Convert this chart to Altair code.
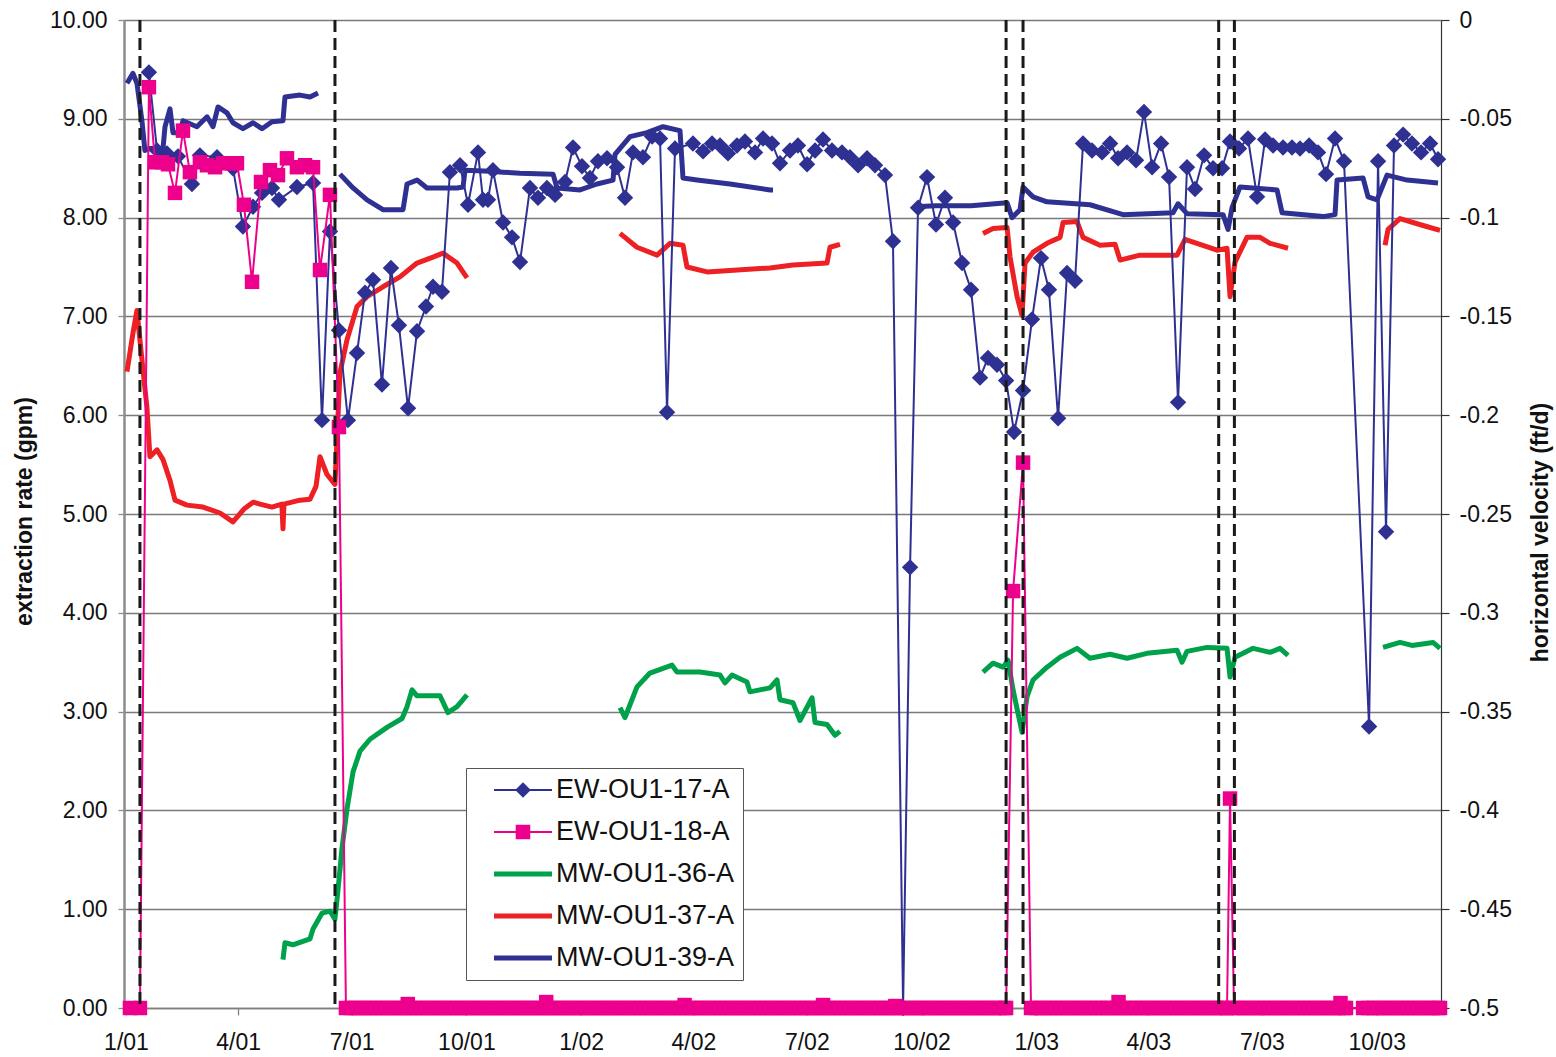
import altair as alt
import numpy as np
import pandas as pd

FONT = "Liberation Sans, Arial, Helvetica, sans-serif"
NAVY = "#2E3192"
PINK = "#EC008C"
GREEN = "#00A14B"
RED = "#ED2024"
TEXT = "#111111"

# Sampling dates are stored as elapsed days since 1 Jan 2001.
START = pd.Timestamp("2001-01-01")

SERIES = ["EW-OU1-17-A", "EW-OU1-18-A", "MW-OU1-36-A", "MW-OU1-37-A", "MW-OU1-39-A"]
SERIES_COLORS = [NAVY, PINK, GREEN, RED, NAVY]

# --- extraction wells, weekly rates (gpm) ---------------------------------
EW17_DAY = [18.4, 24.9, 32.9, 41.7, 52.9, 59.3, 73.0, 85.8, 93.8, 101.9,
            109.1, 117.1, 122.7, 137.1, 150.0, 157.2, 163.6, 170.8, 178.0, 185.3,
            191.7, 198.1, 205.3, 212.5, 218.9, 226.2, 233.4, 240.6, 246.2, 253.4,
            259.8, 267.9, 274.3, 282.3, 286.3, 290.3, 294.3, 302.4, 309.6, 316.0,
            324.0, 330.4, 337.6, 344.1, 352.1, 358.5, 365.7, 372.1, 378.5, 385.8,
            393.8, 400.2, 406.6, 414.6, 421.9, 428.3, 433.9, 440.3, 454.7, 462.8,
            470.0, 476.4, 482.8, 490.0, 496.4, 504.5, 510.9, 518.1, 524.5, 532.5,
            538.9, 546.2, 552.6, 559.0, 566.2, 574.2, 580.6, 587.1, 594.3, 600.7,
            608.7, 615.1, 623.2, 628.8, 635.2, 642.4, 649.6, 656.8, 663.3, 670.5,
            677.7, 684.9, 691.3, 698.5, 705.8, 712.2, 719.4, 726.6, 733.8, 740.2,
            747.5, 754.7, 761.1, 767.5, 774.7, 782.8, 789.2, 795.6, 802.8, 810.0,
            816.4, 822.9, 830.1, 836.5, 843.7, 850.9, 857.3, 864.6, 871.8, 879.0,
            885.4, 892.6, 899.8, 907.1, 913.5, 919.9, 927.9, 935.1, 941.5, 948.8,
            956.0, 962.4, 969.6, 976.8, 996.9, 1004.1, 1010.5, 1016.9, 1024.2, 1031.3,
            1038.6, 1045.8, 1052.2]
EW17_GPM = [9.47, 8.68, 8.65, 8.62, 8.34, 8.63, 8.61, 8.50, 7.91, 8.11,
            8.25, 8.30, 8.18, 8.31, 8.35, 5.95, 7.86, 6.86, 5.95, 6.63,
            7.24, 7.37, 6.31, 7.49, 6.91, 6.07, 6.85, 7.10, 7.30, 7.25,
            8.46, 8.53, 8.13, 8.66, 8.18, 8.18, 8.48, 7.95, 7.80, 7.55,
            8.30, 8.20, 8.30, 8.23, 8.36, 8.71, 8.52, 8.40, 8.57, 8.60,
            8.51, 8.20, 8.66, 8.61, 8.82, 8.80, 6.03, 8.70, 8.75, 8.67,
            8.75, 8.73, 8.65, 8.73, 8.77, 8.66, 8.80, 8.75, 8.55, 8.68,
            8.73, 8.54, 8.68, 8.79, 8.68, 8.66, 8.61, 8.53, 8.60, 8.53,
            8.43, 7.76, 0.00, 4.46, 8.10, 8.41, 7.93, 8.20, 7.95, 7.54,
            7.27, 6.38, 6.58, 6.51, 6.35, 5.83, 6.25, 6.97, 7.59, 7.27,
            5.97, 7.44, 7.36, 8.75, 8.68, 8.66, 8.75, 8.60, 8.66, 8.58,
            9.07, 8.51, 8.75, 8.41, 6.13, 8.51, 8.29, 8.63, 8.50, 8.50,
            8.77, 8.70, 8.80, 8.21, 8.79, 8.73, 8.71, 8.71, 8.70, 8.73,
            8.66, 8.44, 8.80, 8.57, 2.85, 8.57, 4.82, 8.73, 8.84, 8.75,
            8.66, 8.75, 8.59]

# EW-OU1-18-A: readings while pumping, plus small non-zero days in the off periods
EW18_DAY = [3.2, 11.2, 18.4, 23.3, 28.9, 33.7, 39.3, 45.7, 51.3, 59.3,
            65.0, 71.4, 77.8, 85.0, 89.0, 94.6, 101.1, 108.3, 115.5, 121.9,
            129.1, 137.1, 143.6, 150.0, 155.6, 163.6, 170.8,
            226.0, 337.0, 448.0, 559.0, 617.0, 711.4, 719.4, 796.0, 885.4, 974.0]
EW18_GPM = [0.0, 0.0, 9.32, 8.56, 8.56, 8.54, 8.25, 8.88, 8.46, 8.56,
            8.53, 8.51, 8.55, 8.55, 8.55, 8.13, 7.35, 8.36, 8.48, 8.43,
            8.60, 8.51, 8.53, 8.51, 7.47, 8.23, 5.88,
            0.04, 0.06, 0.03, 0.03, 0.02, 4.22, 5.52, 0.06, 2.12, 0.05]
# periods in which EW-OU1-18-A was logged at 0 gpm (first day, last day)
EW18_ZERO_SPANS = [(176.4, 705.8), (725.8, 883.0), (888.6, 978.4), (992.1, 1053.8)]

# --- monitoring wells, horizontal velocity (ft/d), one list per logging period
MW36_PERIODS = [
    [(125.9, -0.4755), (127.5, -0.467), (133.9, -0.468), (147.6, -0.465), (150.0, -0.460),
     (157.2, -0.452), (163.6, -0.451), (167.6, -0.455), (170.0, -0.4405), (173.2, -0.4195),
     (177.2, -0.3995), (182.1, -0.3805), (187.7, -0.370), (195.7, -0.364), (209.3, -0.358),
     (221.4, -0.3535), (225.4, -0.3475), (229.4, -0.339), (233.4, -0.342), (251.8, -0.342),
     (258.2, -0.3505), (265.5, -0.3475), (273.5, -0.3415)],
    [(396.2, -0.348), (400.2, -0.353), (409.8, -0.3375), (420.2, -0.3305), (437.9, -0.3265),
     (441.9, -0.330), (460.3, -0.330), (476.4, -0.3315), (480.4, -0.3355), (486.0, -0.3315),
     (498.0, -0.335), (500.4, -0.340), (516.5, -0.338), (522.1, -0.334), (524.5, -0.344),
     (534.9, -0.3455), (540.5, -0.3545), (550.2, -0.343), (552.6, -0.3555), (562.2, -0.3565),
     (568.6, -0.362), (572.6, -0.360)],
    [(687.3, -0.330), (695.3, -0.3255), (703.4, -0.3275), (707.4, -0.324), (711.4, -0.339),
     (718.6, -0.3605), (722.6, -0.3425), (727.4, -0.334), (738.6, -0.3275), (749.1, -0.3225),
     (762.7, -0.318), (773.1, -0.323), (789.2, -0.321), (802.8, -0.323), (818.8, -0.3205),
     (842.9, -0.319), (846.9, -0.325), (850.9, -0.3195), (867.0, -0.3175), (883.0, -0.318),
     (885.4, -0.3325), (889.4, -0.3225), (903.9, -0.318), (917.5, -0.320), (925.5, -0.318),
     (931.9, -0.3215)],
    [(1008.1, -0.3175), (1021.7, -0.315), (1031.3, -0.3165), (1048.2, -0.315), (1053.8, -0.318)],
]

MW37_PERIODS = [
    [(0.8, -0.178), (5.6, -0.1585), (8.8, -0.147), (12.8, -0.172), (16.8, -0.196),
     (19.2, -0.221), (24.9, -0.2175), (29.7, -0.2225), (35.3, -0.233), (39.3, -0.243),
     (48.9, -0.2455), (61.8, -0.2465), (75.4, -0.2495), (85.8, -0.254), (94.6, -0.2475),
     (101.9, -0.244), (107.5, -0.245), (117.1, -0.2465), (125.0, -0.245), (125.9, -0.2575),
     (126.7, -0.245), (139.5, -0.243), (147.6, -0.2425), (152.4, -0.236), (155.6, -0.221),
     (161.2, -0.230), (167.6, -0.235), (171.6, -0.1785), (177.2, -0.162), (185.3, -0.145),
     (193.3, -0.140), (206.1, -0.135), (219.7, -0.130), (233.4, -0.123), (246.2, -0.120),
     (254.2, -0.118), (265.5, -0.123), (273.5, -0.1305)],
    [(396.2, -0.108), (409.8, -0.115), (425.9, -0.119), (436.3, -0.113), (446.7, -0.114),
     (449.9, -0.125), (466.0, -0.1275), (516.5, -0.1255), (534.9, -0.124), (562.2, -0.123),
     (564.6, -0.115), (572.6, -0.1135)],
    [(687.3, -0.108), (695.3, -0.1055), (706.6, -0.105), (709.0, -0.120), (714.6, -0.140),
     (718.6, -0.1495), (721.0, -0.123), (727.4, -0.1175), (738.6, -0.113), (749.1, -0.110),
     (751.5, -0.1025), (762.7, -0.102), (767.5, -0.110), (781.1, -0.114), (793.2, -0.1135),
     (797.2, -0.1215), (813.2, -0.119), (842.9, -0.119), (849.3, -0.111), (875.0, -0.1165),
     (883.0, -0.1155), (885.4, -0.140), (889.4, -0.1225), (899.0, -0.110), (909.5, -0.110),
     (917.5, -0.113), (931.9, -0.1155)],
    [(1009.7, -0.114), (1012.1, -0.106), (1021.7, -0.1005), (1040.2, -0.104), (1053.8, -0.1065)],
]

MW39_PERIODS = [
    [(0.8, -0.032), (5.6, -0.027), (8.8, -0.032), (12.8, -0.051), (15.2, -0.066),
     (19.2, -0.065), (29.7, -0.065), (31.3, -0.054), (35.3, -0.045), (37.7, -0.057),
     (43.3, -0.057), (45.7, -0.051), (56.9, -0.054), (65.0, -0.049), (69.8, -0.054),
     (73.8, -0.044), (81.0, -0.047), (85.8, -0.052), (93.8, -0.055), (101.9, -0.052),
     (109.1, -0.055), (117.1, -0.0515), (125.9, -0.051), (127.5, -0.039), (139.5, -0.038),
     (147.6, -0.039), (154.0, -0.037)],
    [(171.6, -0.078), (182.1, -0.085), (193.3, -0.091), (206.1, -0.096), (222.2, -0.096),
     (225.4, -0.083), (233.4, -0.081), (241.4, -0.085), (249.4, -0.085), (265.5, -0.085),
     (270.3, -0.0845), (271.9, -0.076), (291.9, -0.0765), (302.4, -0.077), (316.0, -0.0775),
     (342.5, -0.078), (345.7, -0.085), (364.1, -0.086), (377.7, -0.083), (390.6, -0.081),
     (392.2, -0.068), (404.2, -0.059), (417.8, -0.057), (430.7, -0.054), (444.3, -0.056),
     (446.7, -0.080), (457.9, -0.081), (484.4, -0.083), (516.5, -0.086), (518.9, -0.086)],
    [(632.8, -0.0945), (649.6, -0.094), (677.7, -0.094), (706.6, -0.0925), (710.6, -0.100),
     (717.0, -0.096), (719.4, -0.0845), (727.4, -0.0895), (738.6, -0.092), (773.1, -0.0935),
     (799.6, -0.0985), (839.7, -0.0975), (843.7, -0.093), (850.9, -0.098), (879.8, -0.0985),
     (883.8, -0.106), (887.0, -0.095), (893.4, -0.0845), (923.1, -0.086), (927.1, -0.0975),
     (960.0, -0.0995), (969.6, -0.0985), (971.2, -0.081), (992.1, -0.080), (996.1, -0.0895),
     (1003.3, -0.091), (1011.3, -0.0785), (1027.4, -0.081), (1052.2, -0.0825)],
]

# pump shut-down / restart events
EVENT_DAY = [11.2, 167.6, 705.8, 719.4, 876.3, 888.9]

QUARTER_TICKS = [(2001, 1), (2001, 4), (2001, 7), (2001, 10), (2002, 1), (2002, 4),
                 (2002, 7), (2002, 10), (2003, 1), (2003, 4), (2003, 7), (2003, 10)]
VELOCITY_TICKS = [-0.5, -0.45, -0.4, -0.35, -0.3, -0.25, -0.2, -0.15, -0.1, -0.05, 0]

# legend glyphs: line with a marker, drawn as filled paths in symbol units
PATH_DIAMOND = ("M-1,-0.035L-0.235,-0.035L0,-0.27L0.235,-0.035L1,-0.035L1,0.035"
                "L0.235,0.035L0,0.27L-0.235,0.035L-1,0.035Z")
PATH_SQUARE = ("M-1,-0.035L-0.25,-0.035L-0.25,-0.25L0.25,-0.25L0.25,-0.035L1,-0.035"
               "L1,0.035L0.25,0.035L0.25,0.25L-0.25,0.25L-0.25,0.035L-1,0.035Z")
PATH_BAR = "M-1,-0.09L1,-0.09L1,0.09L-1,0.09Z"
SERIES_SHAPES = [PATH_DIAMOND, PATH_SQUARE, PATH_BAR, PATH_BAR, PATH_BAR]


def to_dates(days):
    return START + pd.to_timedelta(np.asarray(days, dtype=float), unit="D")


def periods_frame(periods):
    rows = [(day, v, k) for k, period in enumerate(periods) for day, v in period]
    df = pd.DataFrame(rows, columns=["day", "ftd", "seg"])
    df["date"] = to_dates(df["day"])
    return df


ew17 = pd.DataFrame({"day": EW17_DAY, "gpm": EW17_GPM})
ew17["date"] = to_dates(ew17["day"])
ew17["series"] = SERIES[0]

zero_days = np.concatenate([np.append(np.arange(a, b, 4.0), b) for a, b in EW18_ZERO_SPANS])
ew18 = pd.DataFrame({"day": list(EW18_DAY) + list(zero_days),
                     "gpm": list(EW18_GPM) + [0.0] * len(zero_days)}).sort_values("day")
ew18["date"] = to_dates(ew18["day"])

mw36 = periods_frame(MW36_PERIODS)
mw37 = periods_frame(MW37_PERIODS)
mw39 = periods_frame(MW39_PERIODS)

events = pd.DataFrame({"date": to_dates(EVENT_DAY)})

# --- scales and axes -------------------------------------------------------
x_axis = alt.Axis(
    values=[alt.DateTime(year=y, month=m, date=1) for y, m in QUARTER_TICKS],
    format="%-m/%y", title=None, grid=False,
    labelFont=FONT, labelFontSize=23, labelColor=TEXT, labelPadding=16,
    labelFlush=False, labelOverlap=False,
    tickSize=7, tickColor="#808080", tickWidth=1.3,
    domainColor="#808080", domainWidth=1.3,
)
x = alt.X(
    "date:T",
    scale=alt.Scale(domain=[alt.DateTime(year=2000, month=12, date=30, hours=10),
                            alt.DateTime(year=2003, month=11, date=21, hours=14)]),
    axis=x_axis,
)

left_axis = alt.Axis(
    orient="left", values=list(range(11)), format=".2f",
    grid=True, gridColor="#7a7a7a", gridWidth=1.3,
    domainColor="#8c8c8c", domainWidth=2.5,
    tickColor="#8c8c8c", tickSize=6, tickWidth=1.3,
    labelFont=FONT, labelFontSize=23, labelColor=TEXT, labelPadding=11, labelFlush=False,
    title="extraction rate (gpm)", titleFont=FONT, titleFontSize=23, titleFontWeight="bold",
    titleColor=TEXT, titleAngle=270, titleX=-100, titleY=491,
    titleAlign="center", titleBaseline="middle",
)
y_left = alt.Y("gpm:Q", scale=alt.Scale(domain=[0, 10], nice=False, zero=False), axis=left_axis)

right_axis = alt.Axis(
    orient="right", values=VELOCITY_TICKS,
    labelExpr="datum.value == 0 ? '0' : '-' + format(-datum.value, '~g')",
    grid=False, domainColor="#333333", domainWidth=1.2,
    tickColor="#333333", tickSize=8, tickWidth=1.2,
    labelFont=FONT, labelFontSize=23, labelColor=TEXT, labelPadding=10, labelFlush=False,
    title="horizontal velocity (ft/d)", titleFont=FONT, titleFontSize=23, titleFontWeight="bold",
    titleColor=TEXT, titleAngle=270, titleX=99, titleY=512,
    titleAlign="center", titleBaseline="middle",
)
y_right = alt.Y("ftd:Q", scale=alt.Scale(domain=[-0.5, 0], nice=False, zero=False), axis=right_axis)

# --- velocity lines (right axis) -------------------------------------------
def velocity_layer(df, color):
    return alt.Chart(df).mark_line(color=color, strokeWidth=5, strokeJoin="round").encode(
        x=x, y=y_right, detail="seg:N"
    )

right_group = alt.layer(
    velocity_layer(mw36, GREEN),
    velocity_layer(mw37, RED),
    velocity_layer(mw39, NAVY),
)

# --- extraction rates (left axis) ------------------------------------------
ew17_layer = alt.Chart(ew17).mark_line(
    color=NAVY, strokeWidth=2,
    point=alt.OverlayMarkDef(shape="diamond", filled=True, size=270, color=NAVY, opacity=1),
).encode(x=x, y=y_left)

ew18_layer = alt.Chart(ew18).mark_line(
    color=PINK, strokeWidth=2,
    point=alt.OverlayMarkDef(shape="square", filled=True, size=210, color=PINK, opacity=1),
).encode(x=x, y=y_left)

event_rules = alt.Chart(events).mark_rule(
    color="#1a1a1a", strokeWidth=3, strokeDash=[12, 6]
).encode(x=x)

legend = alt.Legend(
    title=None, orient="none", legendX=342, legendY=748,
    fillColor="white", strokeColor="#555555", padding=8,
    symbolSize=3364, symbolStrokeWidth=0, symbolOffset=20, symbolOpacity=1,
    clipHeight=28, rowPadding=14,
    labelFont=FONT, labelFontSize=27, labelColor=TEXT, labelOffset=4, labelLimit=400,
    labelExpr="datum.label + '\u2002\u2002'",
)
legend_layer = alt.Chart(ew17).transform_filter("false").mark_point(
    filled=True, opacity=1, size=3364
).encode(
    x=x, y=y_left,
    color=alt.Color("series:N", scale=alt.Scale(domain=SERIES, range=SERIES_COLORS), legend=legend),
    shape=alt.Shape("series:N", scale=alt.Scale(domain=SERIES, range=SERIES_SHAPES), legend=legend),
)

left_group = alt.layer(ew17_layer, ew18_layer, event_rules, legend_layer)

chart = alt.layer(right_group, left_group).resolve_scale(y="independent").properties(
    width=1317, height=988,
    padding={"left": 124, "top": 20, "right": 115, "bottom": 49},
    autosize=alt.AutoSizeParams(type="none"),
    background="white",
).configure_view(strokeWidth=0)

chart.save("out.html", embed_options={"renderer": "svg", "actions": False})
